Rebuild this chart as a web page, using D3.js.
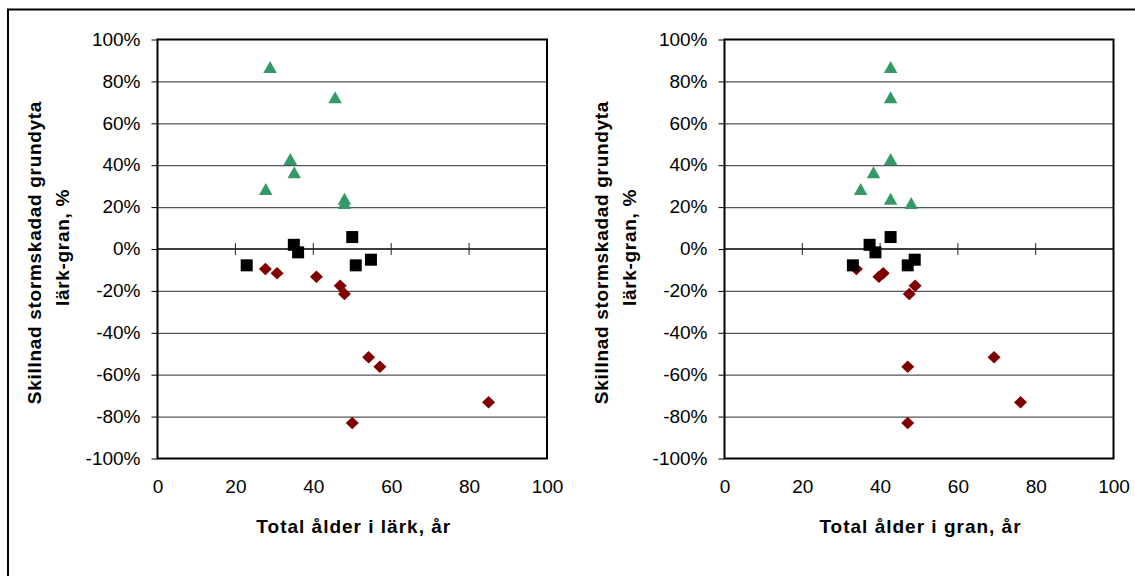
<!DOCTYPE html>
<html>
<head>
<meta charset="utf-8">
<script src="https://cdn.jsdelivr.net/npm/d3@7"></script>
<style>
  html, body { margin: 0; padding: 0; background: #fff; }
  svg { display: block; }
  text { font-family: "Liberation Sans", Arial, sans-serif; fill: #000; }
</style>
</head>
<body>
<svg id="chart" width="1135" height="576"></svg>
<script>
// Difference in storm-damaged basal area, larch minus spruce (%), per stand
const yTicks = [-100, -80, -60, -40, -20, 0, 20, 40, 60, 80, 100];
const xTicks = [0, 20, 40, 60, 80, 100];
const yTitleLines = ["Skillnad stormskadad grundyta", "lärk-gran, %"];
const xTitles = ["Total ålder i lärk, år", "Total ålder i gran, år"];

// Series: triangles (larch clearly better), squares (about equal), diamonds (spruce better)
const triY    = [86.9, 72.4, 43.0, 36.6, 28.6, 24.0, 22.0];
const triLark = [28.9, 45.6, 34.1, 35.1, 27.8, 48.0, 48.0];
const triGran = [42.7, 42.7, 42.7, 38.3, 35.0, 42.7, 48.0];

const sqY    = [-7.8, 2.0, -1.6, 5.7, -7.8, -5.1];
const sqLark = [22.9, 35.0, 36.1, 50.0, 50.9, 54.8];
const sqGran = [33.0, 37.3, 38.8, 42.7, 47.1, 48.9];

const diaY    = [-9.6, -11.6, -13.2, -17.5, -21.5, -51.7, -56.2, -73.2, -83.1];
const diaLark = [27.7, 30.7, 40.8, 46.9, 48.0, 54.2, 57.1, 85.0, 50.0];
const diaGran = [33.9, 40.8, 39.7, 49.0, 47.5, 69.3, 47.1, 76.1, 47.1];

const svg = d3.select("#chart");

// Outer frame
svg.append("rect")
  .attr("x", 8).attr("y", 9.5).attr("width", 1200).attr("height", 700)
  .attr("fill", "none").attr("stroke", "#000").attr("stroke-width", 2);

// Marker shapes
const shapes = {
  triangle: (w, h) => `M0,${-h/2}L${w/2},${h/2}L${-w/2},${h/2}Z`,
  square: (w, h) => `M${-w/2},${-h/2}h${w}v${h}h${-w}Z`,
  diamond: (w, h) => `M0,${-h/2}L${w/2},0L0,${h/2}L${-w/2},0Z`
};

function panel(left, right, xTitle, xs) {
  const top = 39.5, bottom = 458.5;
  const x = d3.scaleLinear().domain([0, 100]).range([left, right]);
  const y = d3.scaleLinear().domain([-100, 100]).range([bottom, top]);
  const g = svg.append("g");

  // Horizontal gridlines
  g.append("g")
    .attr("transform", `translate(${left},0)`)
    .call(d3.axisLeft(y).tickValues(yTicks.filter(v => v !== 0 && Math.abs(v) !== 100))
      .tickSize(-(right - left)).tickFormat(""))
    .call(a => a.select(".domain").remove())
    .call(a => a.selectAll("line").attr("stroke", "#555").attr("stroke-width", 1.3));

  // Y axis with percent labels
  g.append("g")
    .attr("transform", `translate(${left},0)`)
    .call(d3.axisLeft(y).tickValues(yTicks).tickSize(6).tickPadding(11)
      .tickFormat(d => d + "%"))
    .call(a => a.select(".domain").remove())
    .call(a => a.selectAll("line").attr("stroke", "#000").attr("stroke-width", 1))
    .call(a => a.selectAll("text").attr("font-size", 19)
      .attr("font-family", '"Liberation Sans", Arial, sans-serif').attr("dy", "0.3em"));

  // X tick labels along the bottom
  g.append("g")
    .attr("transform", `translate(0,${bottom})`)
    .call(d3.axisBottom(x).tickValues(xTicks).tickSize(0).tickPadding(21))
    .call(a => a.select(".domain").remove())
    .call(a => a.selectAll("text").attr("font-size", 19)
      .attr("font-family", '"Liberation Sans", Arial, sans-serif'));

  // Zero line with crossing tick marks
  const y0 = y(0);
  g.append("line")
    .attr("x1", left).attr("x2", right).attr("y1", y0).attr("y2", y0)
    .attr("stroke", "#000").attr("stroke-width", 1.3);
  g.selectAll(".zt").data(xTicks.filter(v => v > 0 && v < 100)).join("line")
    .attr("x1", d => x(d)).attr("x2", d => x(d))
    .attr("y1", y0 - 6).attr("y2", y0 + 6)
    .attr("stroke", "#222").attr("stroke-width", 1);

  // Plot frame
  g.append("rect")
    .attr("x", left).attr("y", top).attr("width", right - left).attr("height", bottom - top)
    .attr("fill", "none").attr("stroke", "#000").attr("stroke-width", 2);

  // Markers
  const series = [
    { ys: diaY, xs: xs.dia, shape: "diamond", w: 13, h: 12.5, color: "#800000" },
    { ys: triY, xs: xs.tri, shape: "triangle", w: 13.5, h: 12, color: "#339966" },
    { ys: sqY, xs: xs.sq, shape: "square", w: 12, h: 12, color: "#000000" }
  ];
  series.forEach(s => {
    g.append("g").selectAll("path")
      .data(s.ys.map((v, i) => ({ x: s.xs[i], y: v })))
      .join("path")
      .attr("transform", d => `translate(${x(d.x)},${y(d.y)})`)
      .attr("d", shapes[s.shape](s.w, s.h))
      .attr("fill", s.color);
  });

  // Axis titles
  g.append("text")
    .attr("x", (left + right) / 2 + 1.5).attr("y", 532.5)
    .attr("text-anchor", "middle").attr("font-size", 19).attr("font-weight", "bold")
    .attr("letter-spacing", "1px")
    .text(xTitle);

  const yt = g.append("text")
    .attr("transform", `translate(${left - 117},${y(0) + 3.5}) rotate(-90)`)
    .attr("text-anchor", "middle").attr("font-size", 19).attr("font-weight", "bold")
    .attr("letter-spacing", "0.7px");
  yt.append("tspan").attr("x", 0).attr("y", 0).text(yTitleLines[0]);
  yt.append("tspan").attr("x", 5).attr("y", 28.5).text(yTitleLines[1]);
}

panel(157.5, 547, xTitles[0], { tri: triLark, sq: sqLark, dia: diaLark });
panel(724.5, 1113.5, xTitles[1], { tri: triGran, sq: sqGran, dia: diaGran });
</script>
</body>
</html>
